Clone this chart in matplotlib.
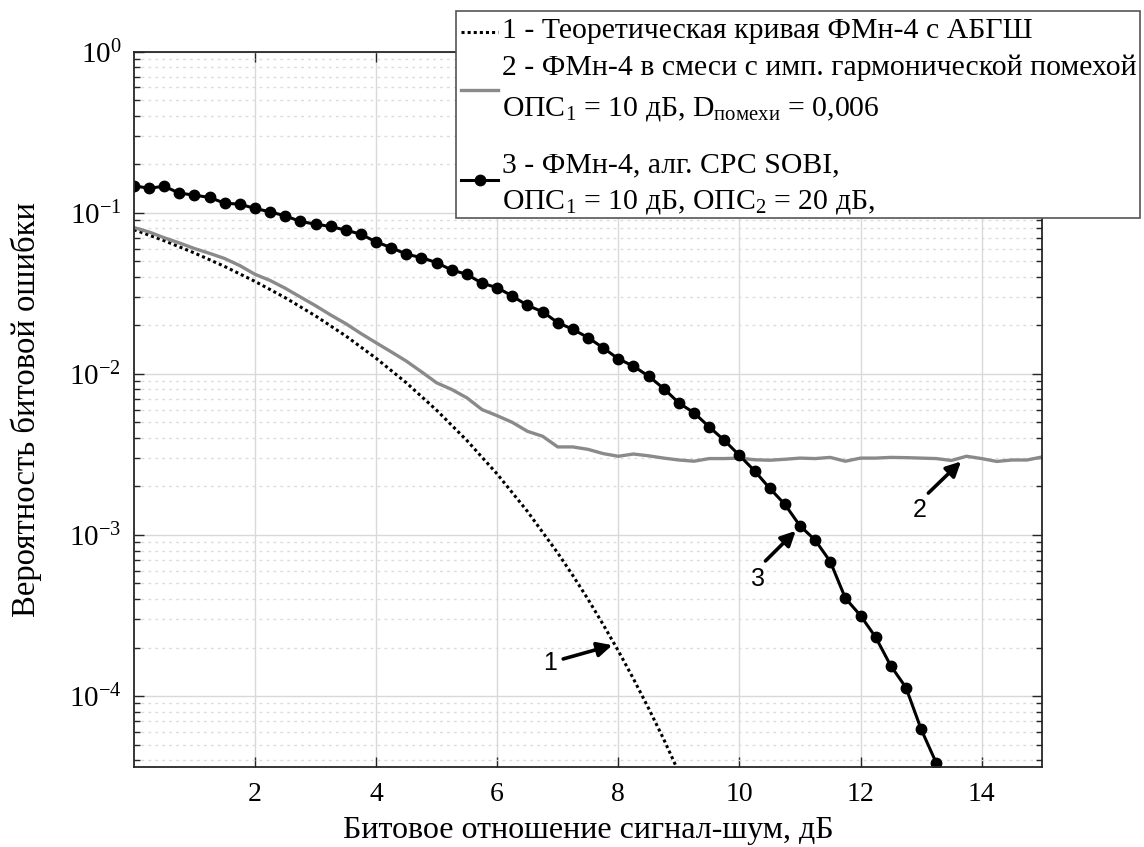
import numpy as np
import matplotlib
matplotlib.use("Agg")
import matplotlib.pyplot as plt
from matplotlib.lines import Line2D
from matplotlib.patches import Rectangle
from matplotlib.ticker import LogLocator, FixedLocator, NullFormatter, LogFormatterMathtext

plt.rcParams['font.family'] = ['Liberation Serif', 'DejaVu Serif']
plt.rcParams['mathtext.fontset'] = 'custom'
plt.rcParams['mathtext.rm'] = 'Liberation Serif'
plt.rcParams['mathtext.it'] = 'Liberation Serif:italic'
plt.rcParams['mathtext.bf'] = 'Liberation Serif:bold'

# ---- data ----
x_theory = [0, 0.5, 1, 1.5, 2, 2.5, 3, 3.5, 4, 4.5, 5, 5.5, 6, 6.5, 7, 7.25, 7.5,
            7.75, 8, 8.25, 8.5, 8.75, 9]
ber_theory = [0.0786, 0.0671, 0.0563, 0.0464, 0.0375, 0.0297, 0.0229, 0.0172, 0.0125,
              0.0088, 0.00595, 0.00386, 0.00239, 0.00140, 7.73e-4, 5.6e-4, 3.99e-4,
              2.78e-4, 1.91e-4, 1.28e-4, 8.4e-5, 5.4e-5, 3.36e-5]

x_interf = [i * 0.25 for i in range(61)]
ber_interf = [0.081, 0.076, 0.070, 0.065, 0.060, 0.056, 0.052, 0.047, 0.0415, 0.038,
              0.034, 0.030, 0.0265, 0.0232, 0.0205, 0.0178, 0.0156, 0.0137, 0.0120, 0.0103,
              0.0088, 0.0080, 0.0071, 0.0060, 0.0055, 0.0050, 0.0044, 0.0041, 0.00352, 0.00352,
              0.0034, 0.0032, 0.00308, 0.00318, 0.0031, 0.0030, 0.00292, 0.00287, 0.00298, 0.00298,
              0.0030, 0.00293, 0.00291, 0.00295, 0.00300, 0.00298, 0.00303, 0.00287, 0.00300, 0.00300,
              0.00303, 0.00302, 0.00300, 0.00298, 0.00290, 0.00308, 0.00298, 0.00286, 0.00292, 0.00292,
              0.00305]

x_sobi = [i * 0.25 for i in range(54)]
ber_sobi = [0.147, 0.142, 0.146, 0.1325, 0.1286, 0.1245, 0.1147, 0.113, 0.1064, 0.1013,
            0.0957, 0.0883, 0.085, 0.0822, 0.078, 0.0736, 0.0659, 0.0608, 0.0553, 0.0527,
            0.049, 0.0441, 0.0415, 0.0365, 0.0343, 0.0304, 0.0266, 0.0243, 0.0208, 0.0189,
            0.0168, 0.0145, 0.0124, 0.01117, 0.00968, 0.00811, 0.0066, 0.00573, 0.00469, 0.00387,
            0.00312, 0.00250, 0.00195, 0.00155, 0.00114, 0.00093, 0.000684, 0.000405, 0.000316, 0.000232,
            0.000154, 0.000113, 6.24e-5, 3.85e-5]

x_ticks = [2, 4, 6, 8, 10, 12, 14]

legend_lines = [
    ["1 - Теоретическая кривая ФМн-4 с АБГШ"],
    ["2 - ФМн-4 в смеси с имп. гармонической помехой",
     "ОПС$_1$ = 10 дБ, D$_{\\mathrm{помехи}}$ = 0,006"],
    ["3 - ФМн-4, алг. СРС SOBI,",
     "ОПС$_1$ = 10 дБ, ОПС$_2$ = 20 дБ,"],
]

# annotations: label, label position, arrow tail, arrow tip (data coords)
ann_labels = ["1", "2", "3"]
ann_label_xy = [(6.88, 1.6e-4), (12.97, 1.42e-3), (10.30, 5.35e-4)]
ann_tail_xy = [(7.09, 1.70e-4), (13.12, 1.82e-3), (10.43, 6.9e-4)]
ann_tip_xy = [(7.90, 2.07e-4), (13.66, 2.86e-3), (10.93, 1.06e-3)]

# ---- figure ----
W, H = 1144, 847
fig = plt.figure(figsize=(W / 100, H / 100), dpi=100)
ax = fig.add_axes([0.117, 0.0945, 0.794, 0.8445])

styles = [
    dict(color='black', linestyle=(0, (1, 1)), lw=2.2),
    dict(color='#8a8a8a', lw=2.4),
    dict(color='black', lw=2.2, marker='o', markersize=7.5),
]
ax.semilogy(x_theory, ber_theory, **styles[0])
ax.semilogy(x_interf, ber_interf, **styles[1])
ax.semilogy(x_sobi, ber_sobi, **styles[2])

ax.set_xlim(0, 15)
ax.set_ylim(10 ** -4.44, 1)

ax.xaxis.set_major_locator(FixedLocator(x_ticks))
ax.yaxis.set_major_locator(LogLocator(base=10, numticks=10))
ax.yaxis.set_minor_locator(LogLocator(base=10, subs=np.arange(2, 10), numticks=10))
ax.yaxis.set_minor_formatter(NullFormatter())
ax.yaxis.set_major_formatter(LogFormatterMathtext())

ax.grid(True, which='major', color='#d9d9d9', lw=1.0, linestyle='-')
ax.grid(True, which='minor', axis='y', color='#dcdcdc', lw=1.0, linestyle=(0, (2, 3)))
ax.set_axisbelow(True)

ax.tick_params(which='both', direction='in', top=True, right=True,
               color='#262626', width=1.0)
ax.tick_params(which='major', length=7)
ax.tick_params(which='minor', length=4)
ax.tick_params(axis='x', pad=11, labelsize=20)
ax.tick_params(axis='y', pad=9, labelsize=21)
for s in ax.spines.values():
    s.set_linewidth(1.3)
    s.set_color('#262626')

ax.set_xlabel("Битовое отношение сигнал-шум, дБ", fontsize=23, labelpad=6)
ax.set_ylabel("Вероятность битовой ошибки", fontsize=23.5, labelpad=19)

for lab, lxy, tail, tip in zip(ann_labels, ann_label_xy, ann_tail_xy, ann_tip_xy):
    ax.annotate("", xy=tip, xytext=tail,
                arrowprops=dict(arrowstyle='-|>', color='black', lw=2.6,
                                mutation_scale=22, shrinkA=0, shrinkB=0))
    ax.text(lxy[0], lxy[1], lab, fontsize=18, family=['Liberation Sans'],
            ha='center', va='center')

# ---- legend box (figure pixel layout) ----
def fx(px):
    return px / W

def fy(py):
    return 1 - py / H

box = Rectangle((fx(456), fy(218)), fx(1140) - fx(456), fy(11) - fy(218),
                transform=fig.transFigure, facecolor='white', edgecolor='#555555',
                lw=1.2, zorder=5)
fig.add_artist(box)

handle_y = [32, 90, 180]
text_baselines = [[38], [75, 115], [172, 208]]
for style, hy, lines, bases in zip(styles, handle_y, legend_lines, text_baselines):
    h = Line2D([fx(461), fx(480), fx(498)], [fy(hy)] * 3, transform=fig.transFigure,
               zorder=6, **style)
    if 'marker' in style:
        h.set_markevery([1])
    fig.add_artist(h)
    for txt, b in zip(lines, bases):
        fig.text(fx(502), fy(b), txt, fontsize=21.4, ha='left', va='baseline', zorder=6)

fig.savefig("out.png", dpi=100)
